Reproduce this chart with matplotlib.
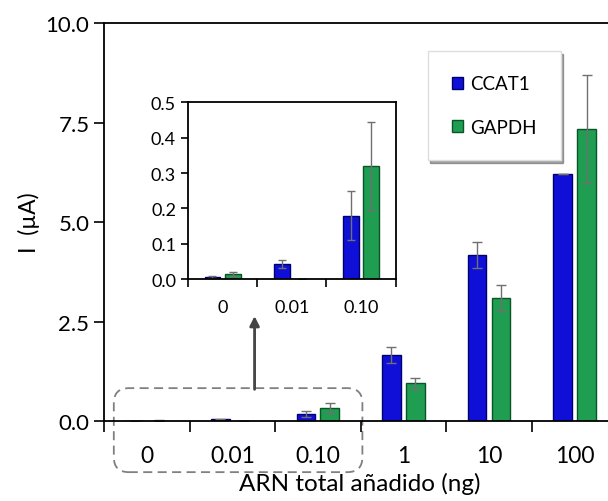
import numpy as np
import matplotlib.pyplot as plt
from matplotlib.patches import FancyBboxPatch

plt.rcParams['font.family'] = ['Lato', 'DejaVu Sans']

# data
categories = ["0", "0.01", "0.10", "1", "10", "100"]
ccat1 = [0.005, 0.043, 0.18, 1.66, 4.17, 6.2]
ccat1_err = [0.003, 0.011, 0.07, 0.2, 0.32, 0.0]
gapdh = [0.015, 0.0, 0.32, 0.95, 3.10, 7.34]
gapdh_err = [0.005, 0.0, 0.125, 0.13, 0.32, 1.36]

blue = "#0f0fd8"
blue_edge = "#00006a"
green = "#1f9e52"
green_edge = "#0a5528"
err_color = "#707070"

fig = plt.figure(figsize=(6.08, 5.02), dpi=100)
# the plot area runs past the right edge of the picture, as in the original
ax = fig.add_axes([0.171, 0.159, 0.829, 0.793])

x = np.arange(len(categories))
w = 0.22
off = 0.14
ax.bar(x - off, ccat1, w, color=blue, edgecolor=blue_edge, lw=1, label="CCAT1",
       yerr=ccat1_err, error_kw=dict(ecolor=err_color, elinewidth=1, capsize=3.5, capthick=1))
ax.bar(x + off, gapdh, w, color=green, edgecolor=green_edge, lw=1, label="GAPDH",
       yerr=gapdh_err, error_kw=dict(ecolor=err_color, elinewidth=1, capsize=3.5, capthick=1))

ax.set_xlim(-0.5, 5.39)
ax.set_ylim(0, 10)
ax.set_yticks([0, 2.5, 5, 7.5, 10])
ax.set_yticklabels(["0.0", "2.5", "5.0", "7.5", "10.0"])
ax.set_xticks(x)
ax.set_xticklabels(categories)
ax.set_xticks(np.arange(-0.5, len(categories) - 1), minor=True)
ax.tick_params(axis="x", which="major", length=0, labelsize=16.5, pad=17)
ax.tick_params(axis="x", which="minor", length=8, width=1.2, direction="out")
ax.tick_params(axis="y", length=7, width=1.2, direction="out", labelsize=16)
for s in ax.spines.values():
    s.set_linewidth(1.3)
ax.spines["right"].set_visible(False)
ax.set_xlabel("ARN total añadido (ng)", fontsize=17.5)
ax.xaxis.set_label_coords(0.508, -0.128)
ax.set_ylabel("I  (µA)", fontsize=16.5, labelpad=4)

leg = ax.legend(loc="upper left", bbox_to_anchor=(0.642, 0.93), fontsize=13.5,
                frameon=True, fancybox=False, shadow=True, handlelength=0.6,
                handleheight=0.6, labelspacing=1.4, borderpad=1.3, handletextpad=0.35,
                borderaxespad=0)
leg.get_frame().set_edgecolor("#dddddd")

# dashed rounded box around the low values
box = FancyBboxPatch((-0.385, -1.28), 2.905, 2.11,
                     boxstyle="round,pad=0,rounding_size=0.175", mutation_aspect=2.15,
                     fill=False, ec="#808080", lw=1.3, ls=(0, (5, 3)), clip_on=False)
ax.add_patch(box)
ax.annotate("", xy=(1.26, 2.64), xytext=(1.26, 0.8),
            arrowprops=dict(arrowstyle="-|>", color="#444444", lw=2,
                            mutation_scale=14, shrinkA=0, shrinkB=0))

# inset
ins = fig.add_axes([0.309, 0.442, 0.342, 0.352])
xi = np.arange(3)
ins.bar(xi - 0.145, ccat1[:3], 0.23, color=blue, edgecolor=blue_edge, lw=1,
        yerr=ccat1_err[:3], error_kw=dict(ecolor=err_color, elinewidth=1, capsize=3, capthick=1))
ins.bar(xi + 0.145, gapdh[:3], 0.23, color=green, edgecolor=green_edge, lw=1,
        yerr=gapdh_err[:3], error_kw=dict(ecolor=err_color, elinewidth=1, capsize=3, capthick=1))
ins.set_xlim(-0.5, 2.5)
ins.set_ylim(0, 0.5)
ins.set_yticks([0, 0.1, 0.2, 0.3, 0.4, 0.5])
ins.set_yticklabels(["0.0", "0.1", "0.2", "0.3", "0.4", "0.5"])
ins.set_xticks(xi)
ins.set_xticklabels(categories[:3])
ins.set_xticks(np.arange(-0.5, 3), minor=True)
ins.tick_params(axis="x", which="major", length=0, labelsize=13, pad=14)
ins.tick_params(axis="x", which="minor", length=6, width=1.2, direction="out")
ins.tick_params(axis="y", length=5, width=1.2, direction="out", labelsize=13)
for s in ins.spines.values():
    s.set_linewidth(1.3)

fig.savefig("out.png", dpi=100)
